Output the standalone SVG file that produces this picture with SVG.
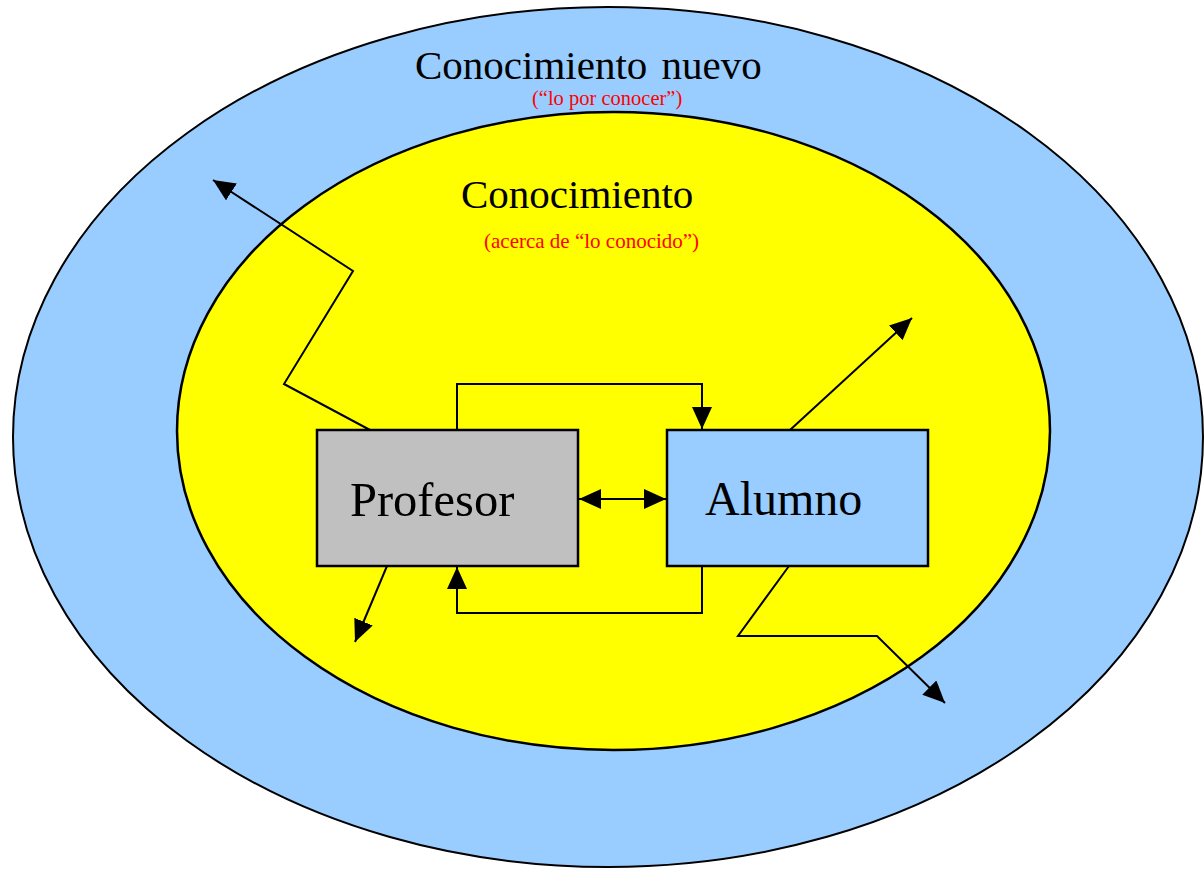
<svg xmlns="http://www.w3.org/2000/svg" width="1204" height="869" viewBox="0 0 1204 869">
<defs>
<marker id="ah" markerUnits="userSpaceOnUse" markerWidth="24" markerHeight="22" refX="22" refY="10" orient="auto-start-reverse">
<path d="M0,0 L22,10 L0,20 Z" fill="#000"/>
</marker>
</defs>
<style>
.serif{font-family:"Liberation Serif","Times New Roman",serif;}
.ln{fill:none;stroke:#000;stroke-width:2;}
.box{stroke:#000;stroke-width:2.5;}
</style>
<rect width="1204" height="869" fill="#fff"/>
<g id="outer">
<ellipse cx="608" cy="437" rx="595" ry="430" fill="#99CCFF" stroke="#000" stroke-width="2"/>
<text class="serif" x="415" y="79" font-size="41" fill="#000" word-spacing="4">Conocimiento nuevo</text>
<text class="serif" x="532" y="105" font-size="20.5" fill="#FF0000">(“lo por conocer”)</text>
</g>
<g id="inner">
<ellipse cx="613.5" cy="431" rx="436.5" ry="319" fill="#FFFF00" stroke="#000" stroke-width="2.5"/>
<text class="serif" x="461" y="208" font-size="41" fill="#000">Conocimiento</text>
<text class="serif" x="484" y="248" font-size="21" fill="#FF0000">(acerca de “lo conocido”)</text>
</g>
<g id="connectors">
<polyline class="ln" points="370,430 284,384 353,271 213,180" marker-end="url(#ah)"/>
<polyline class="ln" points="457,430 457,384 702,384 702,429" marker-end="url(#ah)"/>
<polyline class="ln" points="702,566 702,613 457,613 457,567" marker-end="url(#ah)"/>
<line class="ln" x1="579" y1="499" x2="666" y2="499" marker-start="url(#ah)" marker-end="url(#ah)"/>
<line class="ln" x1="387" y1="566" x2="355" y2="642" marker-end="url(#ah)"/>
<line class="ln" x1="790" y1="430" x2="912" y2="318" marker-end="url(#ah)"/>
<polyline class="ln" points="789,566 738,636 877,636 945,703" marker-end="url(#ah)"/>
</g>
<g id="profesor">
<rect class="box" x="317" y="430" width="261" height="136" fill="#C0C0C0"/>
<text class="serif" x="350" y="516" font-size="48.5" fill="#000">Profesor</text>
</g>
<g id="alumno">
<rect class="box" x="667" y="430" width="261" height="136" fill="#99CCFF"/>
<text class="serif" x="705" y="515" font-size="48" fill="#000">Alumno</text>
</g>
</svg>
